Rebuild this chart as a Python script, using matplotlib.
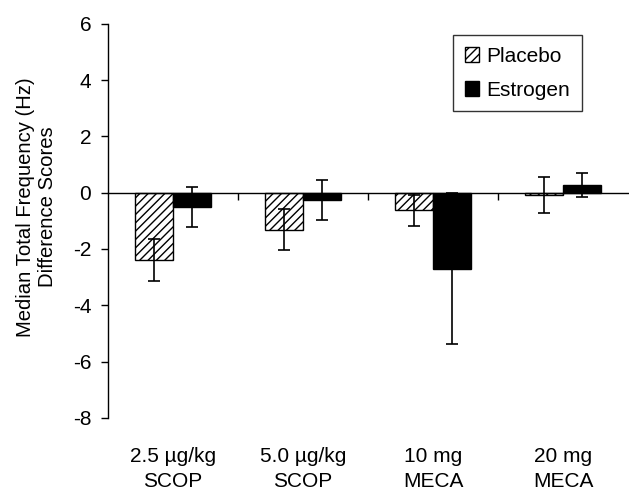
import matplotlib

matplotlib.use("Agg")
import matplotlib.pyplot as plt
import numpy as np

plt.rcParams["font.family"] = ["Liberation Sans", "DejaVu Sans"]
plt.rcParams["hatch.linewidth"] = 1.0

categories = ["2.5 \u00b5g/kg\nSCOP", "5.0 \u00b5g/kg\nSCOP", "10 mg\nMECA", "20 mg\nMECA"]
placebo = [-2.40, -1.32, -0.62, -0.07]
placebo_err = [0.75, 0.73, 0.55, 0.64]
estrogen = [-0.52, -0.26, -2.70, 0.28]
estrogen_err = [0.71, 0.71, 2.68, 0.42]
yticks = [-8, -6, -4, -2, 0, 2, 4, 6]

fig = plt.figure(figsize=(6.29, 4.94), dpi=100)
ax = fig.add_axes([0.1717, 0.154, 0.8266, 0.798])

x = np.arange(len(categories)) + 0.5
w = 0.29
err_kw = dict(ecolor="black", capsize=4.5, elinewidth=1.2, capthick=1.2)
ax.bar(x - w / 2, placebo, w, yerr=placebo_err, color="white", edgecolor="black",
       linewidth=1.0, hatch="////", label="Placebo", error_kw=err_kw, zorder=2)
ax.bar(x + w / 2, estrogen, w, yerr=estrogen_err, color="black", edgecolor="black",
       linewidth=1.0, label="Estrogen", error_kw=err_kw, zorder=2)

ax.set_xlim(0, len(categories))
ax.set_ylim(-8, 6)
ax.set_yticks(yticks)
ax.set_yticklabels([str(t) for t in yticks], fontsize=15)
ax.tick_params(axis="y", direction="out", length=5, width=1, pad=7)

ax.spines["top"].set_visible(False)
ax.spines["right"].set_visible(False)
ax.spines["bottom"].set_position(("data", 0))
ax.spines["bottom"].set_linewidth(1)
ax.spines["left"].set_linewidth(1)
ax.set_xticks(np.arange(1, len(categories)))
ax.set_xticklabels([])
ax.tick_params(axis="x", direction="out", length=5, width=1)

for xi, lab in zip(x, categories):
    ax.text(xi, -0.13, lab, transform=ax.get_xaxis_transform(), ha="center",
            va="center", fontsize=15, linespacing=1.36)

ax.set_ylabel("Median Total Frequency (Hz)\nDifference Scores", fontsize=14.6,
              linespacing=1.22)
ax.yaxis.set_label_coords(-0.098, 0.535)

leg = ax.legend(loc="upper left", bbox_to_anchor=(0.664, 0.971), fontsize=15,
                frameon=True, fancybox=False, edgecolor="black", handlelength=0.7,
                handleheight=0.7, handletextpad=0.35, borderpad=0.55,
                labelspacing=0.72, borderaxespad=0)
leg.get_frame().set_linewidth(1)

fig.savefig("out.png", dpi=100)
